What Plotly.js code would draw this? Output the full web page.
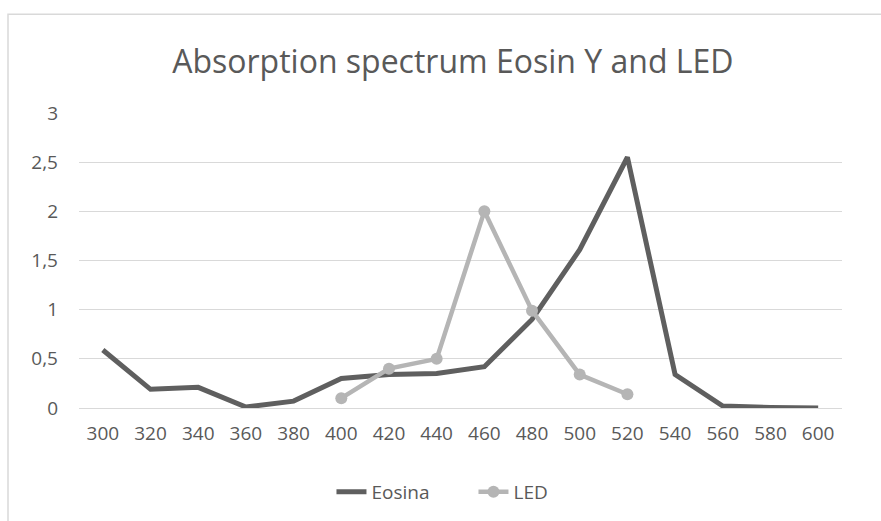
<!DOCTYPE html>
<html>
<head>
<meta charset="utf-8">
<script src="https://cdn.plot.ly/plotly-3.0.1.min.js"></script>
<style>
html,body{margin:0;padding:0;background:#fff;}
#chart{width:881px;height:521px;}
</style>
</head>
<body>
<div id="chart"></div>
<script>
var wavelengths = ["300","320","340","360","380","400","420","440","460","480","500","520","540","560","580","600"];
var eosina = [0.59,0.19,0.21,0.01,0.07,0.30,0.34,0.35,0.42,0.90,1.61,2.55,0.34,0.02,0.005,0.0];
var ledWavelengths = ["400","420","440","460","480","500","520"];
var led = [0.10,0.40,0.50,2.0,0.99,0.34,0.14];
var yTicks = [0,0.5,1,1.5,2,2.5,3];
var yTickText = ["0","0,5","1","1,5","2","2,5","3"];

var fontFam = "Open Sans, sans-serif";
var txt = "#595959";

var traces = [
  {x: wavelengths, y: eosina, name: "Eosina", type: "scatter", mode: "lines",
   line: {color: "#5f5f5f", width: 5}},
  {x: ledWavelengths, y: led, name: "LED", type: "scatter", mode: "lines+markers",
   line: {color: "#b5b5b5", width: 4.5}, marker: {color: "#b5b5b5", size: 12}}
];

var layout = {
  width: 881, height: 521,
  margin: {l: 79, r: 39, t: 113, b: 112},
  paper_bgcolor: "#fff", plot_bgcolor: "#fff",
  font: {family: fontFam, color: txt, size: 19},
  separators: ",.",
  title: {text: "Absorption spectrum Eosin Y and LED", font: {family: fontFam, size: 32, color: txt},
          x: 0.514, xanchor: "center", y: 0.881, yanchor: "middle"},
  xaxis: {type: "category", categoryorder: "array", categoryarray: wavelengths,
          range: [-0.5, 15.5], showgrid: false, zeroline: false, showline: false,
          ticks: "", tickfont: {size: 19, color: txt}, ticklabelstandoff: 12, fixedrange: true},
  yaxis: {range: [0, 3], tickvals: yTicks, ticktext: yTickText, showgrid: true,
          gridcolor: "#d9d9d9", gridwidth: 1, zeroline: true, zerolinecolor: "#d9d9d9", zerolinewidth: 1,
          showline: false, ticks: "", tickfont: {size: 19, color: txt}, ticklabelstandoff: 20, fixedrange: true},
  showlegend: true,
  legend: {orientation: "h", x: 0.517, xanchor: "center", y: -0.28, yanchor: "middle",
           font: {size: 19, color: txt}, itemwidth: 30, entrywidth: 97},
  shapes: [
    {type: "path", xref: "paper", yref: "paper",
     path: "M " + ((8-79)/763) + " " + ((409-530)/296) + " L " + ((8-79)/763) + " " + (1+(113-14)/296) + " L " + ((890-79)/763) + " " + (1+(113-14)/296),
     line: {color: "#d9d9d9", width: 1.5}, layer: "below"}
  ]
};

Plotly.newPlot("chart", traces, layout, {displayModeBar: false, staticPlot: true});
</script>
</body>
</html>
